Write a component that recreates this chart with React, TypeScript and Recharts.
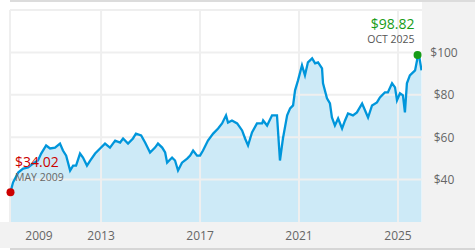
import React from 'react';
import { ComposedChart, Area, Line, XAxis, YAxis, ReferenceLine, ReferenceDot } from 'recharts';

// decimal year of each reading
const years = [
  2009.34, 2009.44, 2009.65, 2009.85, 2010.05, 2010.25, 2010.45, 2010.58, 2010.78, 2010.94,
  2011.14, 2011.34, 2011.46, 2011.59, 2011.75, 2011.87, 2011.99, 2012.15, 2012.27, 2012.43,
  2012.56, 2012.76, 2012.96, 2013.16, 2013.36, 2013.57, 2013.77, 2013.89, 2014.09, 2014.29,
  2014.41, 2014.62, 2014.78, 2014.98, 2015.18, 2015.30, 2015.47, 2015.59, 2015.67, 2015.87,
  2015.99, 2016.11, 2016.27, 2016.48, 2016.60, 2016.72, 2016.88, 2017.00, 2017.12, 2017.32,
  2017.53, 2017.73, 2017.89, 2018.05, 2018.13, 2018.29, 2018.50, 2018.70, 2018.82, 2018.94,
  2019.10, 2019.30, 2019.51, 2019.55, 2019.71, 2019.91, 2020.11, 2020.15, 2020.23, 2020.35,
  2020.52, 2020.64, 2020.76, 2020.84, 2020.96, 2021.12, 2021.24, 2021.36, 2021.53, 2021.65,
  2021.77, 2021.93, 2021.97, 2022.13, 2022.25, 2022.33, 2022.45, 2022.58, 2022.74, 2022.86,
  2022.98, 2023.18, 2023.34, 2023.55, 2023.67, 2023.79, 2023.95, 2024.15, 2024.27, 2024.47,
  2024.59, 2024.76, 2024.88, 2024.96, 2025.08, 2025.20, 2025.28, 2025.36, 2025.48, 2025.69,
  2025.77, 2025.79, 2025.87, 2025.95,
];

// price in dollars
const prices = [
  34.02, 38.6, 43.3, 45.2, 45.7, 47.6, 49.0, 52.3, 56.1, 54.7,
  55.1, 57.0, 53.7, 51.3, 44.3, 46.6, 46.6, 52.3, 50.4, 46.6,
  49.0, 52.3, 54.7, 57.0, 55.1, 58.4, 57.5, 59.4, 57.0, 59.4,
  61.7, 60.8, 57.5, 52.8, 55.1, 57.0, 55.1, 52.8, 48.0, 50.4,
  49.0, 44.3, 48.0, 49.9, 51.3, 53.7, 51.3, 51.3, 53.7, 58.4,
  61.7, 64.1, 66.5, 70.3, 66.9, 67.9, 66.5, 63.2, 59.4, 56.1,
  62.2, 66.5, 66.5, 67.9, 65.5, 70.3, 70.3, 63.2, 49.0, 59.4,
  70.3, 73.6, 75.0, 82.1, 86.8, 93.9, 89.2, 95.3, 97.2, 94.8,
  95.3, 92.5, 85.4, 78.3, 75.9, 69.3, 65.5, 68.8, 64.1, 67.9,
  71.2, 70.3, 71.7, 75.9, 72.6, 69.3, 75.0, 76.4, 78.8, 81.1,
  81.1, 85.4, 83.5, 77.4, 80.7, 79.7, 71.7, 85.4, 89.2, 91.5,
  96.3, 98.82, 97.2, 91.5,
];

const xTicks = [2009.32, 2013, 2017, 2021, 2025];
const xTickLabels = ['2009', '2013', '2017', '2021', '2025'];
const gridYears = [2013, 2017, 2021, 2025];
const yTicks = [40, 60, 80, 100];
const yDomain = [20, 120];
const xDomain = [2009.32, 2025.97];
const startLabel = { price: '$34.02', date: 'MAY 2009' };
const endLabel = { price: '$98.82', date: 'OCT 2025' };

const data = years.map((t, i) => ({ t, p: prices[i] }));
const maxIdx = prices.indexOf(Math.max(...prices));

const FONT = '"Open Sans", sans-serif';

const XTick = (props: any) => {
  const { x, payload } = props;
  const i = xTicks.indexOf(payload.value);
  const first = i === 0;
  return (
    <text x={first ? x + 29 : x} y={235} textAnchor="middle" dominantBaseline="central"
      fill="#666" fontSize={12} fontFamily={FONT}>
      {xTickLabels[i]}
    </text>
  );
};

const YTick = (props: any) => {
  const { y, payload } = props;
  return (
    <text x={444} y={y} textAnchor="middle" dominantBaseline="central"
      fill="#666" fontSize={12} fontFamily={FONT}>
      {'$' + payload.value}
    </text>
  );
};

const StartDot = (props: any) => {
  const { cx, cy } = props;
  return (
    <g>
      <circle cx={cx} cy={cy} r={4} fill="#cc0000" />
      <text x={cx + 4.5} y={cy - 31} dominantBaseline="central" fill="#cc0000" fontSize={14} fontFamily={FONT}>{startLabel.price}</text>
      <text x={cx + 4.5} y={cy - 15.5} dominantBaseline="central" fill="#666" fontSize={10.5} fontFamily={FONT}>{startLabel.date}</text>
    </g>
  );
};

const EndDot = (props: any) => {
  const { cx, cy } = props;
  return (
    <g>
      <circle cx={cx} cy={cy} r={4} fill="#179c17" />
      <text x={cx - 3} y={cy - 31} textAnchor="end" dominantBaseline="central" fill="#179c17" fontSize={14} fontFamily={FONT}>{endLabel.price}</text>
      <text x={cx - 3} y={cy - 15.5} textAnchor="end" dominantBaseline="central" fill="#555" fontSize={10.5} fontFamily={FONT}>{endLabel.date}</text>
    </g>
  );
};

export default function App() {
  return (
    <div style={{ position: 'fixed', left: 0, top: 0, width: 475, height: 250, background: '#fff', overflow: 'hidden' }}>
      <div style={{ position: 'absolute', left: 10, top: 0, width: 465, height: 2, background: '#dcdcdc' }} />
      <div style={{ position: 'absolute', left: 422, top: 2, width: 53, height: 246, background: '#f2f2f2' }} />
      <div style={{ position: 'absolute', left: 0, top: 222, width: 475, height: 26, background: '#f2f2f2' }} />
      <div style={{ position: 'absolute', left: 10, top: 248, width: 465, height: 2, background: '#d6d6d6' }} />
      <div style={{ position: 'absolute', left: 0, top: 0 }}>
        <ComposedChart width={475} height={250} data={data} margin={{ top: 10, right: 0, bottom: 0, left: 10 }}>
          <XAxis dataKey="t" type="number" domain={xDomain} ticks={xTicks} interval={0} height={28}
            axisLine={false} tickLine={false} tick={<XTick />} allowDataOverflow />
          <YAxis orientation="right" type="number" domain={yDomain} ticks={yTicks} width={53}
            axisLine={false} tickLine={false} tick={<YTick />} allowDataOverflow />
          <Area dataKey="p" type="linear" fill="#cdeaf7" fillOpacity={1} stroke="none" isAnimationActive={false} />
          {yTicks.concat([120]).map((v) => (
            <ReferenceLine key={'h' + v} y={v} stroke="#efefef" strokeWidth={2} />
          ))}
          {gridYears.concat([xDomain[0]]).map((v) => (
            <ReferenceLine key={'v' + v} x={v} stroke="#efefef" strokeWidth={2} />
          ))}
          <Line dataKey="p" type="linear" stroke="#0096db" strokeWidth={2.3} dot={false} isAnimationActive={false} />
          <ReferenceDot x={years[0]} y={prices[0]} r={4} shape={<StartDot />} />
          <ReferenceDot x={years[maxIdx]} y={prices[maxIdx]} r={4} shape={<EndDot />} />
        </ComposedChart>
      </div>
    </div>
  );
}
